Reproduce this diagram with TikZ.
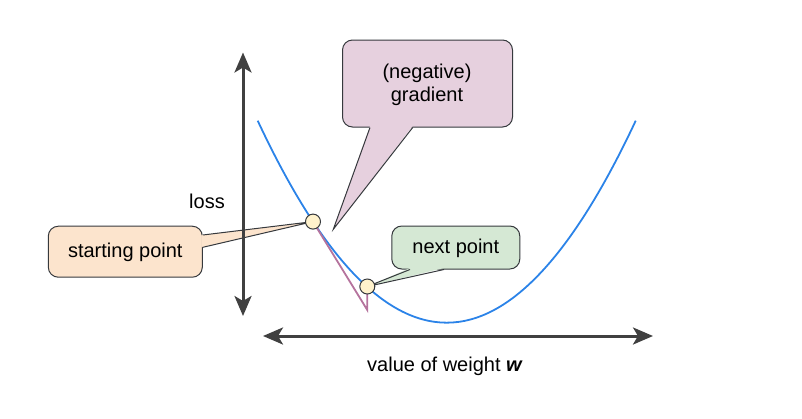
\documentclass[tikz,border=0pt]{standalone}
\usepackage{fontspec}
\setmainfont{Liberation Sans}
\usetikzlibrary{arrows.meta,calc}
\definecolor{axiscol}{HTML}{404040}
\definecolor{curvecol}{HTML}{2B83E8}
\definecolor{gradcol}{HTML}{B5739D}
\definecolor{strokecol}{HTML}{36393D}
\definecolor{pinkfill}{HTML}{E6D0DE}
\definecolor{orangefill}{HTML}{FCE4CD}
\definecolor{greenfill}{HTML}{D5E8D4}
\definecolor{ptfill}{HTML}{FFF2CC}
\tikzset{
  axisline/.style={draw=axiscol, line width=3pt, {Stealth[length=20pt,width=17pt,inset=5pt]}-{Stealth[length=20pt,width=17pt,inset=5pt]}},
  curveline/.style={draw=curvecol, line width=1.8pt},
  gradline/.style={draw=gradcol, line width=1.8pt, line join=miter},
  callout/.style={draw=strokecol, line width=1pt, rounded corners=10pt, inner sep=0pt, align=center},
  ptr/.style={draw=strokecol, line width=1pt, line join=miter},
  ptnode/.style={circle, draw=strokecol, fill=ptfill, line width=1pt, minimum size=15pt, inner sep=0pt},
  lbl/.style={font=\fontsize{20}{23}\selectfont, text=black, inner sep=0pt}
}
\begin{document}
\begin{tikzpicture}[x=1pt,y=-1pt]
\useasboundingbox (0,0) rectangle (802,418);
% curve
\coordinate (cL) at (257.7,120.7);
\coordinate (cR) at (635.7,120.7);
\draw[curveline] (cL) .. controls (383.7,390) and (509.7,390) .. (cR);
% points (positions)
\coordinate (p1c) at (313,221.6);
\coordinate (p2c) at (367.3,286.5);
\coordinate (gend) at (367.3,310);
% gradient line
\draw[gradline] (p1c) -- (gend) -- (p2c);
% gradient callout
\node[callout, fill=pinkfill, minimum width=170pt, minimum height=87pt] (grad) at (427.5,83.5) {};
\node[lbl, align=center] (gradtxt) at (427,84.5) {(negative)\\gradient};
\coordinate (gtip) at (333.3,229.3);
\fill[pinkfill] ($(grad.south)+(-57.5,-1.5)$) -- (gtip) -- ($(grad.south)+(-14.8,-1.5)$) -- cycle;
\draw[ptr] ($(grad.south)+(-57.5,0)$) -- (gtip) -- ($(grad.south)+(-14.8,0)$);
% starting point callout
\node[callout, fill=orangefill, minimum width=154pt, minimum height=51pt] (start) at (125.3,251.7) {};
\node[lbl] (starttxt) at (125.3,252.5) {starting point};
\fill[orangefill] ($(start.east)+(-1.5,-16.7)$) -- (p1c) -- ($(start.east)+(-1.5,-4.4)$) -- cycle;
\draw[ptr] ($(start.east)+(0,-16.7)$) -- (p1c) -- ($(start.east)+(0,-4.4)$);
% next point callout
\node[callout, fill=greenfill, minimum width=128pt, minimum height=43pt] (next) at (455.8,247.5) {};
\node[lbl] (nexttxt) at (455.8,248.5) {next point};
\fill[greenfill] ($(next.south)+(-45.8,-1.5)$) -- (p2c) -- ($(next.south)+(-11.8,-1.5)$) -- cycle;
\draw[ptr] ($(next.south)+(-45.8,0)$) -- (p2c) -- ($(next.south)+(-11.8,0)$);
% axes
\coordinate (yTop) at (243,52.5);
\coordinate (yBot) at (243,316);
\coordinate (xL) at (263,336);
\coordinate (xR) at (653,336);
\draw[axisline] (yBot) -- (yTop);
\draw[axisline] (xL) -- (xR);
% point markers
\node[ptnode] (p1) at (p1c) {};
\node[ptnode] (p2) at (p2c) {};
% labels
\node[lbl] (loss) at (207,201) {loss};
\node[lbl] (xlabel) at (445,366) {value of weight \textbf{\textit{w}}};
\end{tikzpicture}
\end{document}
